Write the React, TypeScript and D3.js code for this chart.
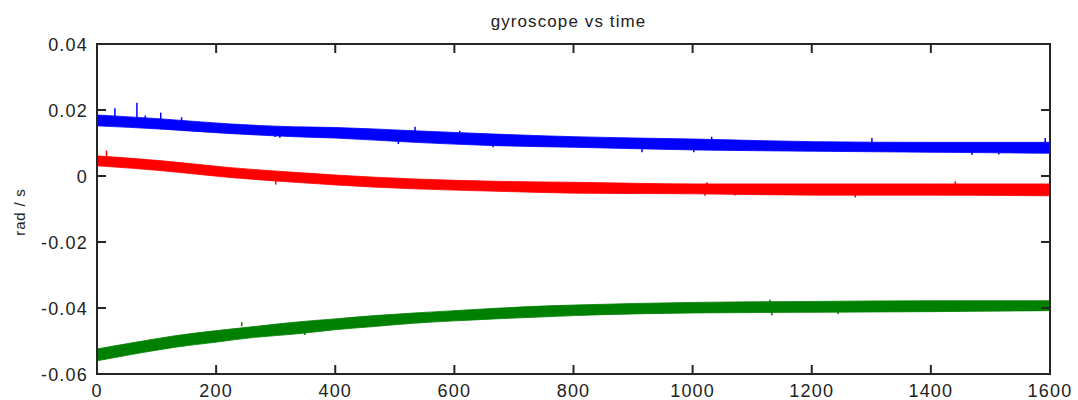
import React from 'react';
import * as d3 from 'd3';

const title = 'gyroscope vs time';
const yLabel = 'rad / s';
const xTicks = [0, 200, 400, 600, 800, 1000, 1200, 1400, 1600];
const yTicks = [-0.06, -0.04, -0.02, 0, 0.02, 0.04];
const yTickLabels = ['-0.06', '-0.04', '-0.02', '0', '0.02', '0.04'];

// Blue series: noise band envelope
const blueTimes = [0, 109, 220, 332, 400, 533, 668, 802, 1003, 1205, 1401, 1600];
const blueUpper = [0.0185, 0.0173, 0.0158, 0.0149, 0.0147, 0.0137, 0.0127, 0.0119, 0.0112, 0.0104, 0.0102, 0.0102];
const blueLower = [0.0152, 0.0142, 0.0129, 0.0119, 0.0115, 0.0102, 0.0092, 0.0087, 0.0079, 0.0075, 0.0072, 0.0069];
// outlier spikes: [time, from, to]
const blueSpikes: [number, number, number][] = [
  [30, 0.017, 0.0205], [67, 0.0165, 0.0222], [107, 0.016, 0.0192], [81, 0.017, 0.0183], [142, 0.0165, 0.0178],
  [299, 0.013, 0.0118], [307, 0.013, 0.0116], [506, 0.0108, 0.0097], [534, 0.013, 0.0149], [609, 0.0125, 0.0137],
  [665, 0.0098, 0.0087], [915, 0.0085, 0.0072], [1002, 0.0085, 0.0072], [1032, 0.011, 0.0119], [1301, 0.0098, 0.0115],
  [1469, 0.0075, 0.0064], [1514, 0.0075, 0.0065], [1592, 0.0098, 0.0115],
];

// Red series
const redTimes = [0, 109, 220, 332, 400, 533, 668, 802, 1003, 1205, 1401, 1600];
const redUpper = [0.0061, 0.0046, 0.0026, 0.0011, 0.0003, -0.0009, -0.0016, -0.0019, -0.0024, -0.0024, -0.0024, -0.0024];
const redLower = [0.0031, 0.0016, -0.0004, -0.0019, -0.0027, -0.0039, -0.0046, -0.0052, -0.0054, -0.0058, -0.0058, -0.006];
const redSpikes: [number, number, number][] = [
  [16, 0.005, 0.0077], [300, -0.001, -0.0026], [1021, -0.005, -0.006], [1071, -0.005, -0.0059],
  [1024, -0.003, -0.0019], [1273, -0.0055, -0.0065], [1441, -0.003, -0.0016],
];

// Green series
const greenTimes = [0, 64, 131, 198, 265, 332, 399, 466, 533, 601, 668, 735, 802, 1003, 1205, 1406, 1600];
const greenUpper = [-0.0524, -0.0504, -0.0484, -0.0469, -0.0456, -0.0443, -0.0433, -0.0423, -0.0415, -0.0408, -0.0401, -0.0395, -0.0391, -0.0383, -0.038, -0.0378, -0.0378];
const greenLower = [-0.056, -0.0539, -0.0519, -0.0504, -0.0489, -0.0479, -0.0466, -0.0456, -0.0446, -0.0439, -0.0433, -0.0428, -0.0423, -0.0415, -0.0413, -0.0411, -0.0408];
const greenSpikes: [number, number, number][] = [
  [243, -0.0455, -0.0443], [349, -0.047, -0.0482], [1130, -0.0385, -0.0375], [1133, -0.041, -0.0423], [1244, -0.041, -0.0418],
];

const W = 1078;
const H = 400;
const left = 97;
const right = 1050;
const top = 44;
const bottom = 374;

const x = d3.scaleLinear().domain([0, 1600]).range([left, right]);
const y = d3.scaleLinear().domain([-0.06, 0.04]).range([bottom, top]);

type Series = { times: number[]; upper: number[]; lower: number[]; spikes: [number, number, number][]; color: string };

const series: Series[] = [
  { times: greenTimes, upper: greenUpper, lower: greenLower, spikes: greenSpikes, color: '#008000' },
  { times: redTimes, upper: redUpper, lower: redLower, spikes: redSpikes, color: '#ff0000' },
  { times: blueTimes, upper: blueUpper, lower: blueLower, spikes: blueSpikes, color: '#0000ff' },
];

export default function App() {
  const axisColor = '#262626';
  const font = '"Liberation Sans", Arial, Helvetica, sans-serif';
  const tick = 9;
  return (
    <svg width={W} height={H} style={{ position: 'absolute', left: 0, top: 0, display: 'block', background: '#fff' }}>
      {series.map((s, si) => {
        const gen = d3
          .area<number>()
          .x((_, i) => x(s.times[i]))
          .y0((_, i) => y(s.lower[i]))
          .y1((_, i) => y(s.upper[i]))
          .curve(d3.curveMonotoneX);
        return (
          <g key={si}>
            <path d={gen(s.times) || ''} fill={s.color} stroke={s.color} strokeWidth={0.8} />
            {s.spikes.map((sp, k) => (
              <line key={k} x1={x(sp[0])} x2={x(sp[0])} y1={y(sp[1])} y2={y(sp[2])} stroke={s.color} strokeWidth={1.5} />
            ))}
          </g>
        );
      })}
      <rect x={left} y={top} width={right - left} height={bottom - top} fill="none" stroke={axisColor} strokeWidth={2} />
      {xTicks.map((t) => (
        <g key={'x' + t}>
          <line x1={x(t)} x2={x(t)} y1={bottom} y2={bottom - tick} stroke={axisColor} strokeWidth={2} />
          <line x1={x(t)} x2={x(t)} y1={top} y2={top + tick} stroke={axisColor} strokeWidth={2} />
          <text x={x(t)} y={397} textAnchor="middle" fontFamily={font} fontSize={18} letterSpacing={1.2} fill="#222">
            {String(t)}
          </text>
        </g>
      ))}
      {yTicks.map((t, i) => (
        <g key={'y' + i}>
          <line x1={left} x2={left + tick} y1={y(t)} y2={y(t)} stroke={axisColor} strokeWidth={2} />
          <line x1={right} x2={right - tick} y1={y(t)} y2={y(t)} stroke={axisColor} strokeWidth={2} />
          <text x={88} y={y(t) + 6.5} textAnchor="end" fontFamily={font} fontSize={18} letterSpacing={1.2} fill="#222">
            {yTickLabels[i]}
          </text>
        </g>
      ))}
      <text x={(left + right) / 2 - 5} y={27} textAnchor="middle" fontFamily={font} fontSize={17} letterSpacing={1.1} fill="#222">
        {title}
      </text>
      <text transform={`translate(25, 212) rotate(-90)`} textAnchor="middle" fontFamily={font} fontSize={15} letterSpacing={0.8} fill="#222">
        {yLabel}
      </text>
    </svg>
  );
}
